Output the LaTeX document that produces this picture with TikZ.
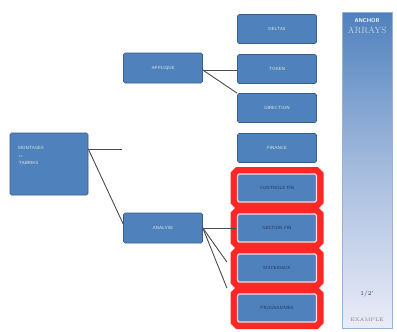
\documentclass[tikz,border=0pt]{standalone}
\usepackage{tikz}
\usetikzlibrary{positioning}
\definecolor{boxblue}{RGB}{79,129,189}
\definecolor{boxedge}{RGB}{56,93,138}
\definecolor{barlight}{RGB}{236,236,248}
\definecolor{boxtext}{RGB}{225,238,215}
\tikzset{
  topic/.style={rectangle, rounded corners=1.5pt, fill=boxblue, draw=boxedge, line width=0.6pt,
    minimum width=79pt, minimum height=29pt, inner sep=1pt, text=boxtext,
    font=\sffamily\fontsize{4.5}{5.5}\selectfont},
  hot/.style={topic, text=boxedge!60!black, draw=red!15, line width=1.2pt,
    preaction={draw=red!85, line width=14pt}},
  link/.style={draw=gray!60!black, line width=0.9pt}
}
\begin{document}
\begin{tikzpicture}[x=1pt,y=-1pt]
  \useasboundingbox (0,0) rectangle (397,332);
  \fill[white] (0,0) rectangle (397,332);
  % left column
  \node[topic, minimum width=78pt, minimum height=62pt, align=left, text width=62pt, text depth=32pt] (root) at (49,164)
    {MONTAGES\\[2pt]\,{\fontsize{3}{3}\selectfont 1\,1}\\[2pt]\,TABRIKS};
  % middle column
  \node[topic, minimum height=30pt] (apply) at (163,68) {APPLIQUE};
  \node[topic, minimum height=30pt] (anal) at (163,228) {ANALYSE};
  % right column, plain ones
  \foreach \name/\y/\txt in {delta/29/DELTAS, token/69/TOKEN, direct/108/DIRECTION, fin/148/FINANCE}
    \node[topic] (\name) at (277,\y) {\txt};
  % right column, marked in red
  \foreach \name/\y/\txt in {ctrl/188/CONTROLE FIN, gest/228/GESTION FIN, mat/268/MATERIAUX, prog/308/PROGRAMMES}
    \node[hot, minimum height=28pt] (\name) at (277,\y) {\txt};
  % connectors
  \coordinate (stub) at (122,149);
  \draw[link] (root.east |- stub) -- (stub);
  \draw[link] (root.east |- stub) -- (anal.west |- 0,224);
  \draw[link] (apply.east |- 0,70) -- (token.west |- 0,70);
  \draw[link] (apply.east |- 0,70) -- (direct.north west);
  \draw[link] (anal.east) -- (gest.west);
  \draw[link] (anal.east) -- ([xshift=-10pt]mat.west |- 0,262);
  \draw[link] (anal.east) -- ([xshift=-10pt]prog.west |- 0,288);
  % side bar
  \node[rectangle, draw=boxblue!60, line width=0.5pt, minimum width=50pt, minimum height=316pt, inner sep=0pt,
    top color=boxblue, bottom color=barlight, middle color=boxblue!45!barlight] (bar) at (367,170) {};
  \node[below=6pt of bar.north, font=\sffamily\fontsize{5.5}{6}\bfseries, text=white, inner sep=1pt] (bhead) {ANCHOR};
  \node[below=2pt of bhead, font=\fontsize{9}{9}\selectfont, text=boxblue!35!white, inner sep=1pt, align=center] (bsub) {ARRAYS};
  \node[above=30pt of bar.south, font=\fontsize{6}{6}\selectfont, text=boxedge!60!black, inner sep=1pt] (bnum) {1/2'};
  \node[above=6pt of bar.south, font=\fontsize{5}{5}\selectfont, text=gray, inner sep=1pt] (bfoot) {EXAMPLE};
\end{tikzpicture}
\end{document}
